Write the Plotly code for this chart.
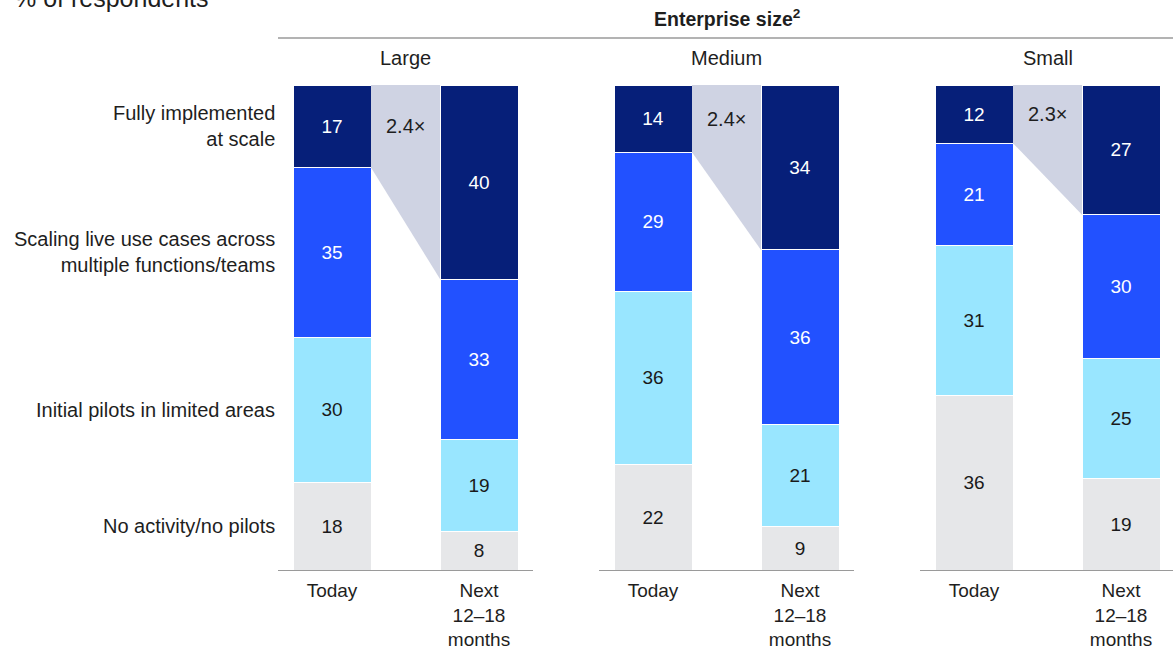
import plotly.graph_objects as go

# Survey shares (% of respondents) by enterprise size and time horizon
panels = ["Large", "Medium", "Small"]
periods = ["Today", "Next<br>12–18<br>months"]
stages = [
    "No activity/no pilots",
    "Initial pilots in limited areas",
    "Scaling live use cases across<br>multiple functions/teams",
    "Fully implemented<br>at scale",
]

# values per stage, [today, next], bottom stage first
large_none = [18, 8]
large_pilots = [30, 19]
large_scaling = [35, 33]
large_full = [17, 40]

medium_none = [22, 9]
medium_pilots = [36, 21]
medium_scaling = [29, 36]
medium_full = [14, 34]

small_none = [36, 19]
small_pilots = [31, 25]
small_scaling = [21, 30]
small_full = [12, 27]

growth_labels = ["2.4×", "2.4×", "2.3×"]

stage_colors = ["#e6e7e9", "#99e6ff", "#2251ff", "#061f79"]
text_colors = ["#1a1a1a", "#1a1a1a", "#ffffff", "#ffffff"]
connector_color = "#cfd3e3"
font_family = "Liberation Sans, Arial, sans-serif"
ink = "#1e1e1e"

panel_data = [
    [large_none, large_pilots, large_scaling, large_full],
    [medium_none, medium_pilots, medium_scaling, medium_full],
    [small_none, small_pilots, small_scaling, small_full],
]

W, H = 1173, 651
# horizontal extent of each panel in pixels
panel_px = [(278, 533), (599, 854), (920, 1175)]
unit_px = 147.0           # pixels between the two bar centres
edge_px = 54.0            # pixels from panel edge to first bar centre
bar_width = 78 / unit_px
plot_top_px, plot_bot_px = 85, 570

fig = go.Figure()

xpos = [0, 1]
for p, stacks in enumerate(panel_data):
    ax = "" if p == 0 else str(p + 1)
    totals = [sum(s[i] for s in stacks) for i in range(2)]
    for k, vals in enumerate(stacks):
        fig.add_trace(go.Bar(
            x=xpos, y=vals, width=bar_width,
            xaxis="x" + ax, yaxis="y" + ax,
            marker=dict(color=stage_colors[k], line=dict(color="white", width=1)),
            text=[str(v) for v in vals], texttemplate="%{text}",
            textposition="inside", insidetextanchor="middle", textangle=0,
            constraintext="none",
            textfont=dict(family=font_family, size=19, color=text_colors[k]),
            hoverinfo="skip", showlegend=False,
        ))
    # connector between the top segment of today and the next bar
    top_today = stacks[-1][0] / totals[0] * 100
    top_next = stacks[-1][1] / totals[1] * 100
    x0 = xpos[0] + bar_width / 2
    x1 = xpos[1] - bar_width / 2
    fig.add_trace(go.Scatter(
        x=[x0, x0, x1, x1, x0],
        y=[100, 100 - top_today, 100 - top_next, 100, 100],
        fill="toself", fillcolor=connector_color, mode="lines",
        line=dict(width=0, color=connector_color),
        xaxis="x" + ax, yaxis="y" + ax, hoverinfo="skip", showlegend=False,
    ))
    fig.add_annotation(
        x=0.5, y=100 - top_today / 2, xref="x" + ax, yref="y" + ax,
        xanchor="center", yanchor="middle",
        text=growth_labels[p], showarrow=False,
        font=dict(family=font_family, size=20, color=ink),
    )

    left, right = panel_px[p]
    lo = -edge_px / unit_px
    hi = lo + (min(right, W) - left) / unit_px
    fig.layout["xaxis" + ax] = dict(
        domain=[left / W, min(right, W) / W], range=[lo, hi],
        tickvals=xpos, ticktext=periods, showgrid=False, zeroline=False,
        showline=True, linecolor="#9a9a9a", linewidth=1.2,
        ticks="outside", ticklen=3, tickcolor="rgba(0,0,0,0)",
        tickfont=dict(family=font_family, size=19, color=ink),
        anchor="y" + ax, fixedrange=True, automargin=False,
    )
    fig.layout["yaxis" + ax] = dict(
        domain=[1 - plot_bot_px / H, 1 - plot_top_px / H], range=[0, 100],
        visible=False, anchor="x" + ax, fixedrange=True, automargin=False,
    )
    fig.add_annotation(
        x=(left + right) / 2 / W, y=1 - 58 / H, xref="paper", yref="paper",
        xanchor="center", yanchor="middle",
        text=panels[p], showarrow=False,
        font=dict(family=font_family, size=20, color=ink),
    )

# stage names aligned with the Large/Today segments
ref = [s[0] for s in panel_data[0]]
ref_total = sum(ref)
cum = 0
for k, v in enumerate(ref):
    centre = (cum + v / 2) / ref_total * 100
    cum += v
    fig.add_annotation(
        x=277 / W, y=centre, xref="paper", yref="y",
        xanchor="right", yanchor="middle", align="right",
        text=stages[k], showarrow=False,
        font=dict(family=font_family, size=20, color=ink),
    )

fig.add_annotation(
    x=12 / W, y=1 - (-2) / H, xref="paper", yref="paper",
    xanchor="left", yanchor="middle",
    text="% of respondents", showarrow=False,
    font=dict(family=font_family, size=25, color=ink),
)
fig.add_annotation(
    x=727 / W, y=1 - 18 / H, xref="paper", yref="paper",
    xanchor="center", yanchor="middle",
    text="<b>Enterprise size<sup>2</sup></b>", showarrow=False,
    font=dict(family=font_family, size=19.5, color=ink),
)
fig.add_shape(
    type="line", xref="paper", yref="paper",
    x0=278 / W, x1=1, y0=1 - 38 / H, y1=1 - 38 / H,
    line=dict(color="#9a9a9a", width=1.5),
)

fig.update_layout(
    width=W, height=H, barmode="stack", barnorm="percent",
    margin=dict(l=0, r=0, t=0, b=0, autoexpand=False),
    paper_bgcolor="white", plot_bgcolor="white",
    font=dict(family=font_family),
)

fig.write_html("out.html")
